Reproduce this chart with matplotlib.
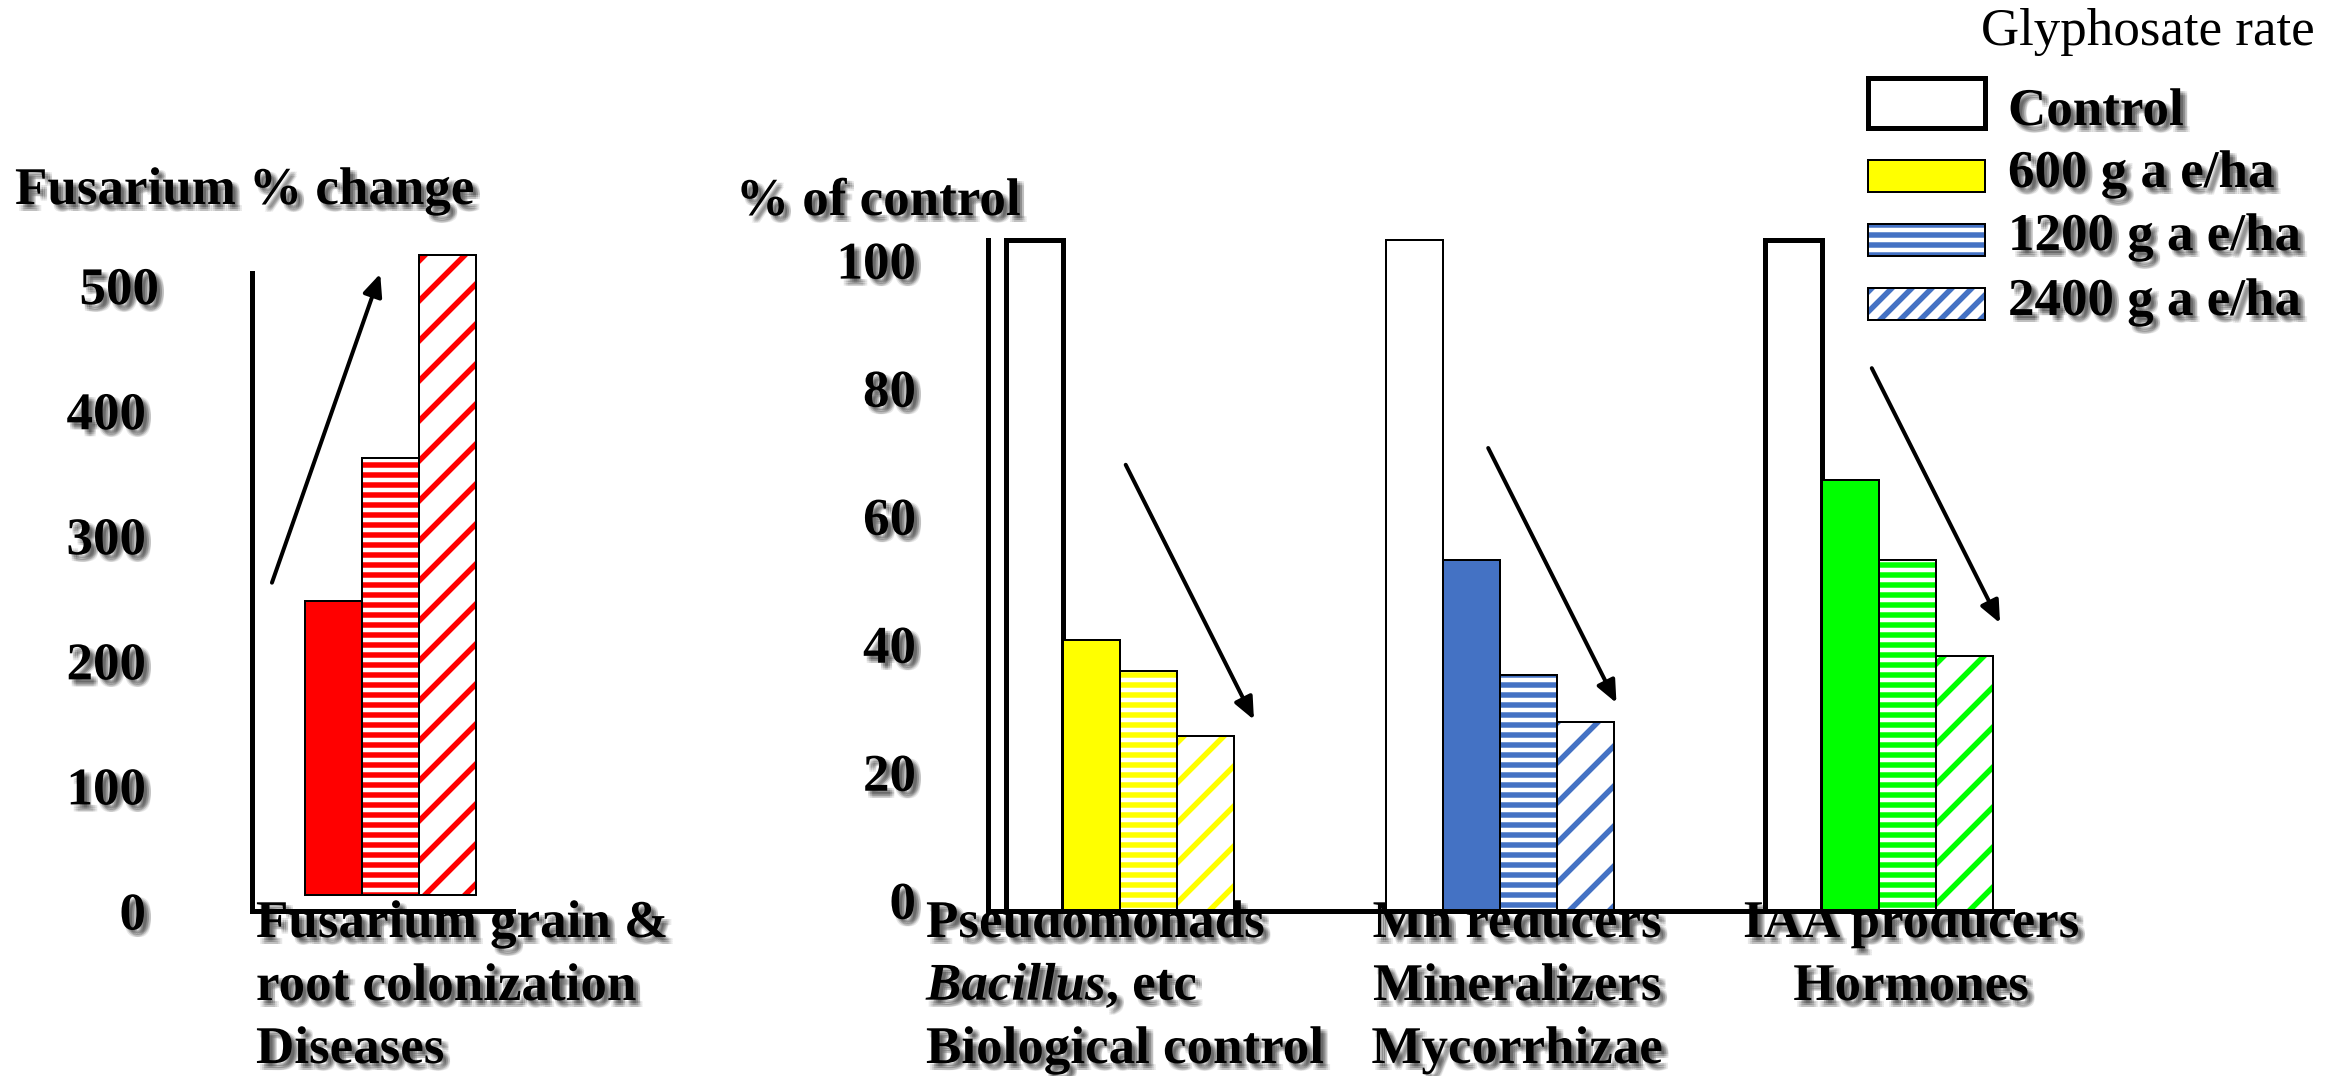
import matplotlib
matplotlib.use('Agg')
import matplotlib.pyplot as plt
import matplotlib.patheffects as pe
import matplotlib.transforms as mtransforms
from matplotlib.patches import Rectangle
import numpy as np

# ---- data ---------------------------------------------------------------
fusarium_change = [235, 350, 512]            # 600, 1200, 2400 g a e/ha
fusarium_ticks = [0, 100, 200, 300, 400, 500]

groups = ['Pseudomonads', 'Mn reducers', 'IAA producers']
control = [100, 100, 100]
rate_600 = [40.4, 52.3, 64.2]
rate_1200 = [35.8, 35.2, 52.3]
rate_2400 = [26.1, 28.2, 38.0]
pct_ticks = [0, 20, 40, 60, 80, 100]

group_colors = ['#ffff00', '#4472c4', '#00ff00']
legend_labels = ['Control', '600 g a e/ha', '1200 g a e/ha', '2400 g a e/ha']

captions = [
    ['Fusarium grain &', 'root colonization', 'Diseases'],
    ['Pseudomonads', r'$\mathit{Bacillus}$, etc', 'Biological control'],
    ['Mn reducers', 'Mineralizers', 'Mycorrhizae'],
    ['IAA producers', 'Hormones'],
]

# ---- layout (pixels) -----------------------------------------------------
W, H, DPI = 2346, 1076, 120


def pt(px):
    # pixel size -> points at the output dpi
    return px * 72.0 / DPI


FS = pt(53)
BASE_Y = 911
HATCHES = [None, '--', '/']
THICK = pt(5)
THIN = pt(2)

plt.rcParams['font.family'] = ['Liberation Serif', 'DejaVu Serif']
plt.rcParams['mathtext.fontset'] = 'custom'
plt.rcParams['mathtext.it'] = 'Liberation Serif:italic:bold'
plt.rcParams['mathtext.rm'] = 'Liberation Serif:bold'
plt.rcParams['hatch.linewidth'] = pt(5.5)

SHADOW = [pe.SimplePatchShadow(offset=(pt(dx), -pt(dy)), shadow_rgbFace='black', alpha=0.09)
          for dx in (3, 5, 7) for dy in (3, 5, 7)] + [pe.Normal()]

fig = plt.figure(figsize=(W / DPI, H / DPI), dpi=DPI)

# overlay in pixel coordinates for titles, captions and legend
ov = fig.add_axes([0, 0, 1, 1])
ov.set_xlim(0, W)
ov.set_ylim(H, 0)
ov.axis('off')


def px_axes(left, top, right, bottom):
    a = fig.add_axes([left / W, 1 - bottom / H, (right - left) / W, (bottom - top) / H])
    a.set_facecolor('none')
    for s in ['top', 'right']:
        a.spines[s].set_visible(False)
    for s in ['left', 'bottom']:
        a.spines[s].set_linewidth(THICK)
    a.set_xticks([])
    return a


def draw_bar(ax, x, h, color, hatch, lw=THIN):
    if hatch:
        ax.bar(x, h, width=1, facecolor='white', edgecolor=color, hatch=hatch,
               linewidth=0, clip_on=False)
        ax.bar(x, h, width=1, facecolor='none', edgecolor='black', linewidth=lw, clip_on=False)
    else:
        ax.bar(x, h, width=1, facecolor=color, edgecolor='black', linewidth=lw, clip_on=False)


ARROW = dict(arrowstyle='-|>,head_length=0.5,head_width=0.22', mutation_scale=pt(37),
             lw=pt(4), color='black', shrinkA=0, shrinkB=0)


def label_text(x, y, s, **kw):
    kw.setdefault('fontweight', 'bold')
    ov.text(x, y, s, fontsize=FS, va='baseline', path_effects=SHADOW, **kw)


# ---- left chart: Fusarium % change --------------------------------------
L_SCALE = 1.282  # px per unit
axL = px_axes(252, BASE_Y - 500 * L_SCALE, 513, BASE_Y)
axL.set_ylim(0, 500)
axL.set_xlim(-1.43, 3.15)
for i, v in enumerate(fusarium_change):
    draw_bar(axL, i, v, '#ff0000', HATCHES[i])
axL.spines['left'].set_bounds(-12.5, 498)
axL.set_yticks(np.array(fusarium_ticks) - 12.5, labels=[str(t) for t in fusarium_ticks])
axL.tick_params(axis='y', length=0, pad=pt(106), labelsize=FS)
for t in axL.get_yticklabels():
    t.set_fontweight('bold')
    t.set_path_effects(SHADOW)
# the top label sits a little further right in the original slide
top_lbl = axL.get_yticklabels()[-1]
top_lbl.set_transform(top_lbl.get_transform() +
                      mtransforms.ScaledTranslation(13 / DPI, 0, fig.dpi_scale_trans))
axL.annotate('', xy=(0.82, 497), xytext=(-1.08, 250), arrowprops=ARROW,
             annotation_clip=False)

# ---- middle/right chart: % of control -----------------------------------
GROUP_STEP = 6.66
axM = px_axes(988, 240, 2012, BASE_Y)
axM.set_ylim(0, 100)
axM.set_xlim(-0.816, 17.15)
control_lw = [THICK, THIN, THICK]
for g in range(len(groups)):
    x0 = g * GROUP_STEP
    draw_bar(axM, x0, control[g], 'white', None, lw=control_lw[g])
    for i, vals in enumerate([rate_600, rate_1200, rate_2400]):
        draw_bar(axM, x0 + 1 + i, vals[g], group_colors[g], HATCHES[i])

mid_arrows = [((1.6, 66.5), (3.85, 28.5)),
              ((7.96, 69.0), (10.21, 31.0)),
              ((14.69, 80.9), (16.94, 42.9))]
for start, end in mid_arrows:
    axM.annotate('', xy=end, xytext=start, arrowprops=ARROW, annotation_clip=False)

axM.set_yticks(np.array(pct_ticks) * 0.954 + 1.6, labels=[str(t) for t in pct_ticks])
axM.tick_params(axis='y', length=0, pad=pt(72), labelsize=FS)
for t in axM.get_yticklabels():
    t.set_fontweight('bold')
    t.set_path_effects(SHADOW)

# ---- titles --------------------------------------------------------------
label_text(15, 204, 'Fusarium % change')
label_text(736, 215, '% of control')
ov.text(1981, 45, 'Glyphosate rate', fontsize=FS, va='baseline')

# ---- captions under the bars ----------------------------------------------
caption_pos = [(256, 'left'), (926, 'left'), (1517, 'center'), (1911, 'center')]
line_y = [937, 1000, 1063]
for (cx, ha), lines in zip(caption_pos, captions):
    for j, s in enumerate(lines):
        label_text(cx, line_y[j], s, ha=ha)

# ---- legend ---------------------------------------------------------------
sw_boxes = [(78, 50), (160, 32), (224, 32), (288, 32)]
leg_base = [125, 187, 250, 315]
sw_style = [('white', None, THICK), ('#ffff00', None, THIN),
            ('#4472c4', '--', THIN), ('#4472c4', '//', THIN)]
for (top, hgt), (col, hatch, lw), lab, by in zip(sw_boxes, sw_style, legend_labels, leg_base):
    if hatch:
        ov.add_patch(Rectangle((1868, top), 117, hgt, facecolor='white', edgecolor=col,
                               hatch=hatch, linewidth=0))
        ov.add_patch(Rectangle((1868, top), 117, hgt, facecolor='none',
                               edgecolor='black', linewidth=lw))
    else:
        ov.add_patch(Rectangle((1868, top), 117, hgt, facecolor=col,
                               edgecolor='black', linewidth=lw))
    label_text(2008, by, lab)

fig.savefig('out.png', dpi=DPI)
